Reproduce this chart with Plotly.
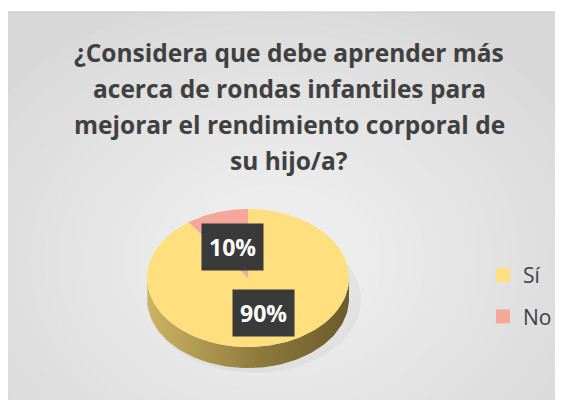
import numpy as np
import plotly.graph_objects as go

# data
categories = ["Sí", "No"]
values = [90, 10]
slice_colors = ["#FFDF7E", "#F6A79C"]
title_lines = [
    "¿Considera que debe aprender más",
    "acerca de rondas infantiles para",
    "mejorar el rendimiento corporal de",
    "su hijo/a?",
]

W, H = 563, 400   # drawing area; page body adds an 8px margin
OFF = 8
# 3D pie geometry (pixel space)
cx, cy = 248, 278
rx, ry = 101, 69
depth = 21


def ellipse_pt(theta_deg, frac=1.0, dy=0.0):
    t = np.radians(theta_deg)
    return cx + rx * frac * np.sin(t), cy - ry * frac * np.cos(t) + dy


fig = go.Figure()

# soft shadow under the pie
a = np.linspace(0, 360, 120)
sx = cx + 6 + (rx + 6) * np.cos(np.radians(a))
sy = cy + 22 + (ry + 4) * np.sin(np.radians(a))
fig.add_trace(go.Scatter(x=sx, y=sy, fill="toself", mode="lines",
                         line=dict(width=0), fillcolor="rgba(0,0,0,0.035)",
                         showlegend=False, hoverinfo="skip"))

# side band (front half of the pie, all from the first slice)
a = np.linspace(90, 270, 90)
ux, uy = ellipse_pt(a)
lx, ly = ellipse_pt(a[::-1], dy=depth)
fig.add_trace(go.Scatter(
    x=np.concatenate([ux, lx]), y=np.concatenate([uy, ly]),
    fill="toself", mode="lines", line=dict(width=0),
    fillgradient=dict(type="horizontal",
                      colorscale=[[0, "#cdb463"], [0.55, "#8f7a3c"], [1, "#6b5c2e"]]),
    showlegend=False, hoverinfo="skip"))

# top face slices, clockwise from 12 o'clock
total = sum(values)
start = 0.0
label_pos = []
for cat, val, col in zip(categories, values, slice_colors):
    sweep = 360.0 * val / total
    a = np.linspace(start, start + sweep, max(int(sweep), 4))
    px, py = ellipse_pt(a)
    fig.add_trace(go.Scatter(
        x=np.concatenate([[cx], px, [cx]]), y=np.concatenate([[cy], py, [cy]]),
        fill="toself", mode="lines", line=dict(width=0), fillcolor=col,
        showlegend=False, hoverinfo="skip"))
    label_pos.append(ellipse_pt(start + sweep / 2, frac=0.5, dy=2))
    start += sweep

# legend entries
for cat, col in zip(categories, slice_colors):
    fig.add_trace(go.Scatter(
        x=[None], y=[None], mode="markers", name=cat, legendgroup=cat,
        marker=dict(symbol="square", size=14, color=col)))

# percentage labels
for (lx_, ly_), val in zip(label_pos, values):
    fig.add_annotation(
        x=lx_, y=ly_, text=f"<b>{round(100 * val / total)}%</b>",
        showarrow=False, bgcolor="#3a3a3a", borderpad=7,
        font=dict(family="Open Sans", size=23, color="white"))

# title lines
for i, line in enumerate(title_lines):
    fig.add_annotation(
        x=289, y=52 + 36 * i, text=f"<b>{line}</b>", showarrow=False,
        font=dict(family="Open Sans", size=24.5, color="#404040"))

# chart area with a soft radial glow
shapes = [dict(type="rect", xref="x", yref="y", x0=7, y0=12, x1=W + 10, y1=H + 10,
               fillcolor="#d8d8d8", line=dict(color="#c4c4c4", width=1),
               layer="below")]
n_glow = 24
for k in range(n_glow):
    s = 1 - k / (n_glow + 1)
    shapes.append(dict(type="circle", xref="x", yref="y",
                       x0=275 - 340 * s, x1=275 + 340 * s,
                       y0=260 - 270 * s, y1=260 + 270 * s,
                       fillcolor="white", opacity=0.05, line=dict(width=0),
                       layer="below"))

fig.update_layout(
    width=W - OFF, height=H - OFF,
    margin=dict(l=0, r=0, t=0, b=0),
    paper_bgcolor="white",
    plot_bgcolor="rgba(0,0,0,0)",
    xaxis=dict(range=[OFF, W], visible=False, fixedrange=True),
    yaxis=dict(range=[H, OFF], visible=False, fixedrange=True),
    shapes=shapes,
    legend=dict(x=(483 - OFF) / (W - OFF), y=1 - (255 - OFF) / (H - OFF),
                xanchor="left", yanchor="top",
                font=dict(family="Open Sans", size=21, color="#404040"),
                tracegroupgap=11, traceorder="grouped",
                bgcolor="rgba(0,0,0,0)"),
    showlegend=True,
)

fig.write_html("out.html")
